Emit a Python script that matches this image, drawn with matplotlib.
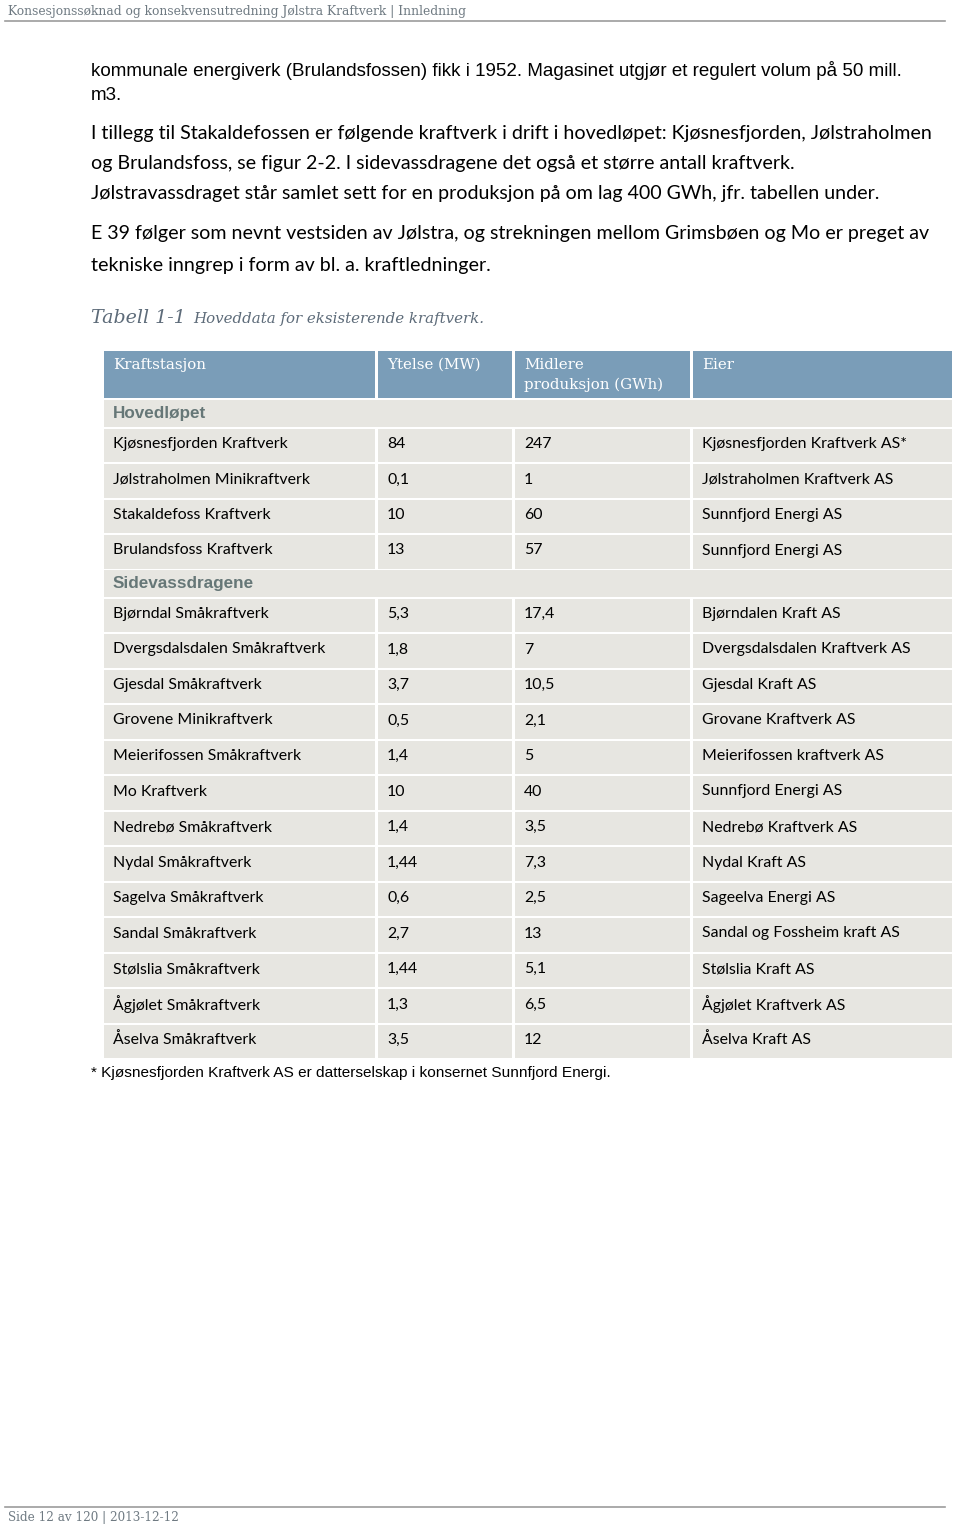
import matplotlib
matplotlib.use("Agg")
import matplotlib.pyplot as plt
from matplotlib.patches import Rectangle

# table data
hoved_navn = ["Kjøsnesfjorden Kraftverk", "Jølstraholmen Minikraftverk",
              "Stakaldefoss Kraftverk", "Brulandsfoss Kraftverk"]
hoved_mw = ["84", "0,1", "10", "13"]
hoved_gwh = ["247", "1", "60", "57"]
hoved_eier = ["Kjøsnesfjorden Kraftverk AS*", "Jølstraholmen Kraftverk AS",
              "Sunnfjord Energi AS", "Sunnfjord Energi AS"]

side_navn = ["Bjørndal Småkraftverk", "Dvergsdalsdalen Småkraftverk", "Gjesdal Småkraftverk",
             "Grovene Minikraftverk", "Meierifossen Småkraftverk", "Mo Kraftverk",
             "Nedrebø Småkraftverk", "Nydal Småkraftverk", "Sagelva Småkraftverk",
             "Sandal Småkraftverk", "Stølslia Småkraftverk", "Ågjølet Småkraftverk",
             "Åselva Småkraftverk"]
side_mw = ["5,3", "1,8", "3,7", "0,5", "1,4", "10", "1,4", "1,44", "0,6", "2,7", "1,44", "1,3", "3,5"]
side_gwh = ["17,4", "7", "10,5", "2,1", "5", "40", "3,5", "7,3", "2,5", "13", "5,1", "6,5", "12"]
side_eier = ["Bjørndalen Kraft AS", "Dvergsdalsdalen Kraftverk AS", "Gjesdal Kraft AS",
             "Grovane Kraftverk AS", "Meierifossen kraftverk AS", "Sunnfjord Energi AS",
             "Nedrebø Kraftverk AS", "Nydal Kraft AS", "Sageelva Energi AS",
             "Sandal og Fossheim kraft AS", "Stølslia Kraft AS", "Ågjølet Kraftverk AS",
             "Åselva Kraft AS"]

seksjoner = [("Hovedløpet", hoved_navn, hoved_mw, hoved_gwh, hoved_eier),
             ("Sidevassdragene", side_navn, side_mw, side_gwh, side_eier)]

kolonner = ["Kraftstasjon", "Ytelse (MW)", "Midlere\nproduksjon (GWh)", "Eier"]

W, H = 960, 1529
fig = plt.figure(figsize=(W / 100, H / 100), dpi=100)
ax = fig.add_axes([0, 0, 1, 1])
ax.set_xlim(0, W)
ax.set_ylim(H, 0)
ax.axis("off")
renderer = fig.canvas.get_renderer()

BLUE = "#7a9db8"
GREY = "#e7e6e1"
SANS = ["Liberation Sans", "DejaVu Sans"]
CALI = ["Lato", "DejaVu Sans"]
SERIF = ["DejaVu Serif"]


def fit(sample, width, family, **kw):
    # find font size (pt) so that sample is width px wide
    t = ax.text(0, 0, sample, fontsize=10, family=family, **kw)
    w = t.get_window_extent(renderer).width
    t.remove()
    return 10 * width / w


def txt(x, y, s, size, family, **kw):
    ax.text(x, y, s, fontsize=size, family=family, va="center", ha="left", **kw)


# page header / footer
s_hdr = fit("Konsesjonssøknad og konsekvensutredning Jølstra Kraftverk | Innledning", 459, SERIF)
txt(8, 11, "Konsesjonssøknad og konsekvensutredning Jølstra Kraftverk | Innledning", s_hdr, SERIF,
    color="#6f7a82")
ax.plot([5, 945], [21, 21], color="#9c9c9c", lw=1.2)
s_ftr = fit("Side 12 av 120 | 2013-12-12", 171, SERIF)
ax.plot([5, 945], [1507, 1507], color="#9c9c9c", lw=1.2)
txt(8, 1518, "Side 12 av 120 | 2013-12-12", s_ftr, SERIF, color="#6f7a82")

# body text
l1 = "kommunale energiverk (Brulandsfossen) fikk i 1952. Magasinet utgjør et regulert volum på 50 mill."
s_arial = fit(l1, 817, SANS)
txt(91, 70, l1, s_arial, SANS, color="black")
txt(91, 95, "m3.", s_arial, SANS, color="black")

l2 = "I tillegg til Stakaldefossen er følgende kraftverk i drift i hovedløpet: Kjøsnesfjorden, Jølstraholmen"
s_cal = fit(l2, 843, CALI)
txt(91, 133, l2, s_cal, CALI, color="black")
txt(91, 163, "og Brulandsfoss, se figur 2-2. I sidevassdragene det også et større antall kraftverk.",
    s_cal, CALI, color="black")
txt(91, 193, "Jølstravassdraget står samlet sett for en produksjon på om lag 400 GWh, jfr. tabellen under.",
    s_cal, CALI, color="black")
txt(91, 234, "E 39 følger som nevnt vestsiden av Jølstra, og strekningen mellom Grimsbøen og Mo er preget av",
    s_cal, CALI, color="black")
txt(91, 265, "tekniske inngrep i form av bl. a. kraftledninger.", s_cal, CALI, color="black")

# caption
s_cap1 = fit("Tabell 1-1", 95, SERIF, style="italic")
s_cap2 = fit("Hoveddata for eksisterende kraftverk.", 291, SERIF, style="italic")
txt(91, 318, "Tabell 1-1", s_cap1, SERIF, style="italic", color="#5d6b79")
txt(193, 319, "Hoveddata for eksisterende kraftverk.", s_cap2, SERIF, style="italic", color="#5d6b79")

# table geometry
cx = [(104, 375), (378, 512), (515, 690), (693, 952)]
pad = 9
s_head = fit("Kraftstasjon", 93, SERIF)
s_sec = fit("Sidevassdragene", 142, SANS, weight="bold")
s_cell = fit("Kjøsnesfjorden Kraftverk AS*", 206, CALI)

# header row
for (x0, x1), lab in zip(cx, kolonner):
    ax.add_patch(Rectangle((x0, 351), x1 - x0, 47, color=BLUE, lw=0))
    for k, part in enumerate(lab.split("\n")):
        txt(x0 + pad, 365 + 20 * k, part, s_head, SERIF, color="white")

y = 400
for navn, col1, col2, col3, col4 in seksjoner:
    ax.add_patch(Rectangle((cx[0][0], y), cx[-1][1] - cx[0][0], 27, color=GREY, lw=0))
    txt(cx[0][0] + pad, y + 13.5, navn, s_sec, SANS, weight="bold", color="#667777")
    y += 28.5
    for row in zip(col1, col2, col3, col4):
        for (x0, x1), val in zip(cx, row):
            ax.add_patch(Rectangle((x0, y), x1 - x0, 33.5, color=GREY, lw=0))
            txt(x0 + pad, y + 15.5, val, s_cell, CALI, color="black")
        y += 35.5
    y -= 0.5

s_fn = fit("* Kjøsnesfjorden Kraftverk AS er datterselskap i konsernet Sunnfjord Energi.", 523, SANS)
txt(91, 1073, "* Kjøsnesfjorden Kraftverk AS er datterselskap i konsernet Sunnfjord Energi.",
    s_fn, SANS, color="black")

fig.savefig("out.png", dpi=100, facecolor="white")
